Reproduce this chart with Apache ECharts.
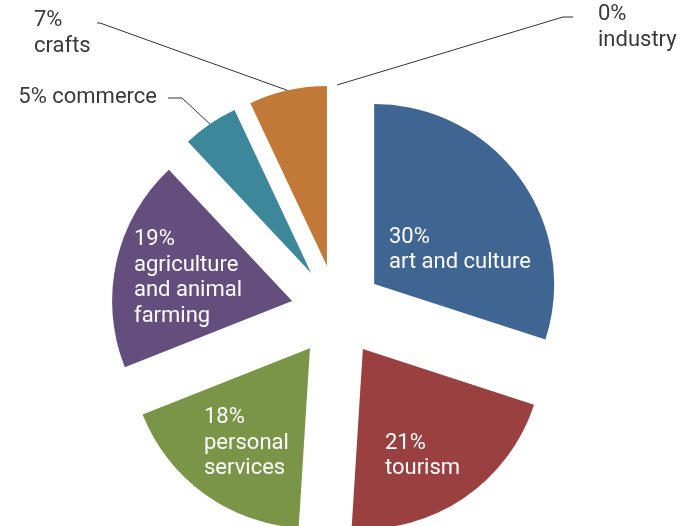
<!DOCTYPE html>
<html>
<head>
<meta charset="utf-8">
<script src="https://cdn.jsdelivr.net/npm/echarts@6/dist/echarts.min.js"></script>
<style>
  html, body { margin: 0; padding: 0; background: #ffffff; }
  #chart { width: 681px; height: 526px; }
</style>
</head>
<body>
<div id="chart"></div>
<script>
// Share of each sector, clockwise from twelve o'clock
const sectors = ['art and culture', 'tourism', 'personal services', 'agriculture and animal farming', 'commerce', 'crafts', 'industry'];
const shares = [30, 21, 18, 19, 5, 7, 0];

// How each label is written (percentage, then the sector name broken into lines)
const labelLines = [
  ['art and culture'],
  ['tourism'],
  ['personal', 'services'],
  ['agriculture', 'and animal', 'farming'],
  ['commerce'],
  ['crafts'],
  ['industry']
];
const sameLine = [false, false, false, false, true, false, false];

const sliceColors = ['#3f6592', '#9a4040', '#7a9547', '#644e7e', '#3d879b', '#c27937', '#888888'];
const insideText = '#ffffff';
const outsideText = '#3a3a3a';

// Geometry of the exploded pie
const pieCenter = [337, 311];
const pieRadius = 180;
const explode = 46;

// Where each label block sits; outside labels also get a bent leader line
const labelSpots = [
  { x: 389, y: 250, align: 'left', verticalAlign: 'middle' },
  { x: 385, y: 456, align: 'left', verticalAlign: 'middle' },
  { x: 204, y: 443, align: 'left', verticalAlign: 'middle' },
  { x: 134, y: 278, align: 'left', verticalAlign: 'middle' },
  { x: 157, y: 97, align: 'right', verticalAlign: 'middle', bend: [182, 98], end: [168, 98] },
  { x: 34, y: 8, align: 'left', verticalAlign: 'top', bend: [100, 23], end: [97, 23] },
  { x: 598, y: 2, align: 'left', verticalAlign: 'top', bend: [563, 17], end: [573, 17] }
];

const isOutside = labelSpots.map(s => !!s.bend);

// The visible slices, every one pulled out from the centre
const sliceData = sectors.map((name, i) => ({
  name: name,
  value: shares[i],
  selected: true,
  itemStyle: { color: sliceColors[i] },
  select: { itemStyle: { color: sliceColors[i] } }
}));

// A transparent copy reaching the outer edge of the pulled-out slices carries the labels
const labelData = sectors.map((name, i) => ({
  name: name,
  value: shares[i],
  label: {
    position: isOutside[i] ? 'outside' : 'inside',
    color: isOutside[i] ? outsideText : insideText
  },
  labelLine: { show: isOutside[i] }
}));

const chart = echarts.init(document.getElementById('chart'), null, { renderer: 'canvas' });

chart.setOption({
  animation: false,
  backgroundColor: '#ffffff',
  series: [
    {
      type: 'pie',
      center: pieCenter,
      radius: [0, pieRadius],
      startAngle: 90,
      clockwise: true,
      selectedMode: 'multiple',
      selectedOffset: explode,
      silent: true,
      emphasis: { disabled: true },
      label: { show: false },
      labelLine: { show: false },
      data: sliceData
    },
    {
      type: 'pie',
      center: pieCenter,
      radius: [0, pieRadius + explode],
      startAngle: 90,
      clockwise: true,
      silent: true,
      avoidLabelOverlap: false,
      minShowLabelAngle: -1,
      emphasis: { disabled: true },
      itemStyle: { color: 'rgba(0,0,0,0)' },
      label: {
        show: true,
        fontFamily: 'Roboto',
        fontWeight: 'normal',
        fontSize: 22,
        lineHeight: 25.5,
        overflow: 'none',
        formatter: function (p) {
          const i = p.dataIndex;
          const head = p.value + '%';
          return sameLine[i]
            ? head + ' ' + labelLines[i].join(' ')
            : [head].concat(labelLines[i]).join('\n');
        }
      },
      labelLine: {
        lineStyle: { color: '#333333', width: 1 }
      },
      labelLayout: function (p) {
        const spot = labelSpots[p.dataIndex];
        const out = { x: spot.x, y: spot.y, align: spot.align, verticalAlign: spot.verticalAlign };
        if (spot.bend && p.labelLinePoints) {
          out.labelLinePoints = [p.labelLinePoints[0], spot.bend, spot.end];
        }
        return out;
      },
      data: labelData
    }
  ]
});
</script>
</body>
</html>
